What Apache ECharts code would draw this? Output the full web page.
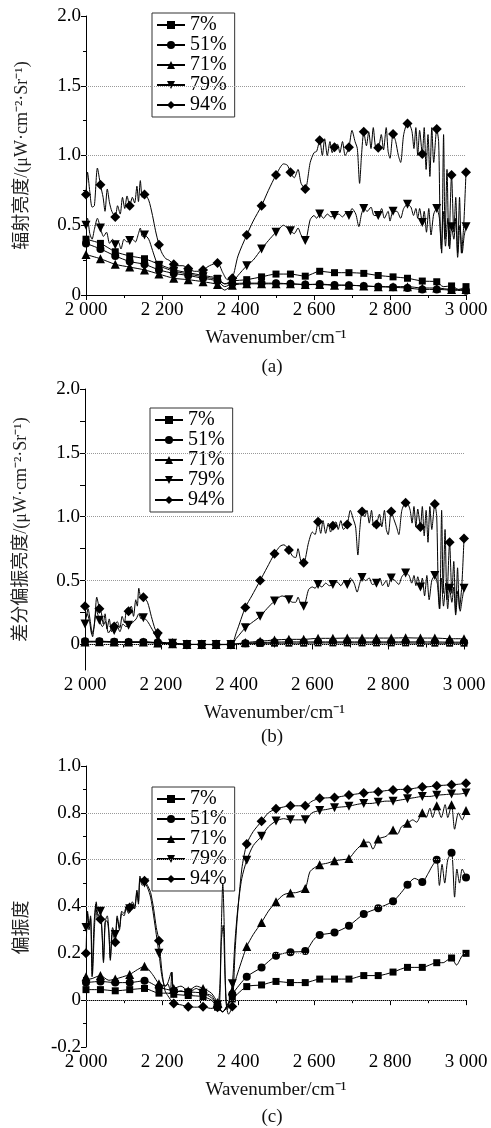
<!DOCTYPE html>
<html lang="zh">
<head>
<meta charset="UTF-8">
<title>辐射亮度 / 差分偏振亮度 / 偏振度</title>
<script src="https://cdn.jsdelivr.net/npm/echarts@6/dist/echarts.min.js"></script>
<style>
    html, body { margin: 0; padding: 0; background: #fff; }
    #chart { width: 491px; height: 1128px; }
</style>
</head>
<body>
<div id="chart"></div>
<script>
    // legend names and where the markers sit (every ~38.5 cm-1)
    const names = ['7%', '51%', '71%', '79%', '94%'];
    const marks = [2000, 2038, 2077, 2115, 2154, 2192, 2231, 2269, 2308, 2346, 2385, 2423, 2462, 2500,
        2538, 2577, 2615, 2654, 2692, 2731, 2769, 2808, 2846, 2885, 2923, 2962, 3000];

    const xTicks = [2000, 2200, 2400, 2600, 2800, 3000];
    const yTicksA = [0, 0.5, 1.0, 1.5, 2.0];
    const yTicksB = [0, 0.5, 1.0, 1.5, 2.0];
    const yTicksC = [-0.2, 0, 0.2, 0.4, 0.6, 0.8, 1.0];
    const gridA = [0.5, 1.0, 1.5];
    const gridB = [0, 0.5, 1.0, 1.5];
    const gridC = [0, 0.2, 0.4, 0.6, 0.8];

    // (a) radiance
    const a7 = [[2000,0.40],[2038,0.37],[2077,0.31],[2115,0.28],[2154,0.26],[2192,0.22],[2231,0.18],[2269,0.16],[2308,0.14],[2346,0.12],[2365,0.08],[2385,0.10],[2423,0.11],[2462,0.13],[2500,0.15],[2538,0.15],[2577,0.135],[2615,0.17],[2654,0.16],[2692,0.16],[2731,0.155],[2769,0.14],[2808,0.13],[2846,0.12],[2885,0.10],[2923,0.095],[2940,0.06],[2962,0.065],[2980,0.04],[3000,0.06]];
    const a51 = [[2000,0.37],[2038,0.33],[2077,0.28],[2115,0.24],[2154,0.22],[2192,0.18],[2231,0.155],[2269,0.14],[2308,0.12],[2346,0.10],[2365,0.06],[2385,0.08],[2423,0.085],[2462,0.085],[2500,0.085],[2538,0.08],[2577,0.075],[2615,0.078],[2654,0.072],[2692,0.07],[2731,0.065],[2769,0.06],[2808,0.055],[2846,0.05],[2885,0.04],[2923,0.04],[2962,0.035],[3000,0.03]];
    const a71 = [[2000,0.29],[2038,0.26],[2077,0.22],[2115,0.20],[2154,0.18],[2192,0.15],[2231,0.12],[2269,0.11],[2308,0.095],[2346,0.075],[2365,0.035],[2385,0.07],[2423,0.08],[2462,0.08],[2500,0.08],[2538,0.08],[2577,0.075],[2615,0.075],[2654,0.07],[2692,0.07],[2731,0.065],[2769,0.06],[2808,0.06],[2846,0.06],[2885,0.05],[2923,0.05],[2962,0.04],[3000,0.04]];
    const a79 = [[2000,0.50],[2004,0.55],[2010,0.44],[2016,0.40],[2022,0.47],[2030,0.55],[2038,0.48],[2046,0.42],[2054,0.45],[2062,0.37],[2070,0.40],[2077,0.36],[2085,0.38],[2092,0.33],[2100,0.40],[2108,0.38],[2115,0.39],[2122,0.40],[2130,0.38],[2138,0.44],[2143,0.48],[2148,0.42],[2154,0.43],[2165,0.40],[2175,0.32],[2185,0.24],[2192,0.21],[2210,0.19],[2231,0.17],[2250,0.16],[2269,0.15],[2290,0.14],[2308,0.13],[2330,0.12],[2346,0.11],[2365,0.08],[2385,0.09],[2400,0.14],[2423,0.21],[2440,0.25],[2462,0.33],[2480,0.39],[2500,0.45],[2520,0.50],[2530,0.48],[2538,0.46],[2548,0.44],[2558,0.48],[2566,0.43],[2577,0.39],[2590,0.54],[2600,0.57],[2607,0.55],[2615,0.58],[2625,0.55],[2635,0.58],[2645,0.56],[2654,0.57],[2665,0.58],[2675,0.56],[2685,0.59],[2692,0.57],[2700,0.62],[2710,0.58],[2718,0.49],[2725,0.58],[2731,0.62],[2740,0.60],[2750,0.63],[2758,0.57],[2769,0.57],[2778,0.62],[2785,0.55],[2795,0.60],[2800,0.53],[2808,0.60],[2818,0.60],[2828,0.55],[2836,0.62],[2846,0.65],[2855,0.63],[2862,0.57],[2868,0.62],[2873,0.55],[2878,0.62],[2885,0.52],[2890,0.60],[2896,0.45],[2902,0.62],[2908,0.43],[2915,0.58],[2923,0.62],[2930,0.55],[2935,0.33],[2940,0.60],[2946,0.35],[2952,0.55],[2957,0.33],[2962,0.49],[2968,0.40],[2973,0.55],[2978,0.27],[2984,0.50],[2990,0.30],[2995,0.42],[3000,0.49]];
    const a94 = [[2000,0.72],[2004,0.88],[2010,0.74],[2016,0.63],[2022,0.64],[2030,0.91],[2038,0.79],[2045,0.70],[2050,0.60],[2056,0.76],[2062,0.66],[2068,0.60],[2077,0.56],[2083,0.64],[2090,0.58],[2096,0.70],[2102,0.62],[2108,0.71],[2115,0.64],[2122,0.70],[2128,0.66],[2134,0.78],[2138,0.67],[2143,0.82],[2148,0.70],[2154,0.72],[2165,0.68],[2175,0.57],[2183,0.46],[2192,0.36],[2200,0.30],[2210,0.26],[2218,0.25],[2231,0.22],[2245,0.21],[2255,0.21],[2269,0.19],[2285,0.17],[2295,0.17],[2308,0.18],[2325,0.21],[2346,0.23],[2360,0.16],[2372,0.11],[2385,0.12],[2400,0.28],[2423,0.43],[2440,0.53],[2462,0.64],[2480,0.75],[2500,0.86],[2520,0.94],[2530,0.93],[2538,0.88],[2548,0.84],[2558,0.90],[2566,0.80],[2577,0.76],[2590,0.95],[2600,1.02],[2607,1.03],[2615,1.11],[2622,1.00],[2628,1.12],[2635,1.00],[2642,1.10],[2648,1.02],[2654,1.06],[2662,1.08],[2668,1.02],[2675,1.10],[2682,1.00],[2692,1.06],[2700,1.18],[2708,1.10],[2714,1.05],[2720,0.80],[2725,1.00],[2731,1.17],[2738,1.07],[2744,1.17],[2750,1.05],[2756,1.20],[2762,1.06],[2769,1.055],[2777,1.15],[2783,1.04],[2790,1.20],[2795,1.03],[2800,0.98],[2808,1.155],[2815,1.10],[2822,1.00],[2828,0.95],[2836,1.15],[2846,1.23],[2852,1.22],[2858,1.17],[2863,1.05],[2868,1.20],[2873,1.00],[2878,1.18],[2885,1.01],[2890,1.20],[2895,0.90],[2900,1.15],[2905,0.85],[2910,1.20],[2915,0.95],[2923,1.19],[2928,1.10],[2932,0.50],[2936,0.30],[2941,1.15],[2945,0.40],[2950,0.90],[2955,0.35],[2962,0.86],[2968,0.45],[2973,0.70],[2978,0.30],[2983,0.70],[2988,0.30],[2994,0.50],[3000,0.88]];

    // (b) differential polarized radiance
    const b7 = [[2000,0.02],[2038,0.02],[2077,0.018],[2115,0.016],[2154,0.015],[2192,0.01],[2231,0.005],[2269,0.0],[2308,0.0],[2346,-0.002],[2385,0.0],[2423,0.005],[2462,0.008],[2500,0.01],[2538,0.01],[2577,0.01],[2615,0.012],[2654,0.012],[2692,0.012],[2731,0.012],[2769,0.012],[2808,0.012],[2846,0.012],[2885,0.01],[2923,0.01],[2962,0.01],[3000,0.01]];
    const b51 = [[2000,0.025],[2038,0.025],[2077,0.022],[2115,0.02],[2154,0.02],[2192,0.015],[2231,0.005],[2269,0.0],[2308,0.0],[2346,0.0],[2385,0.0],[2423,0.01],[2462,0.015],[2500,0.018],[2538,0.02],[2577,0.02],[2615,0.02],[2654,0.02],[2692,0.02],[2731,0.02],[2769,0.02],[2808,0.02],[2846,0.02],[2885,0.02],[2923,0.02],[2962,0.018],[3000,0.018]];
    const b71 = [[2000,0.02],[2038,0.022],[2077,0.02],[2115,0.02],[2154,0.02],[2192,0.012],[2231,0.005],[2269,0.0],[2308,0.0],[2346,0.0],[2385,0.0],[2423,0.015],[2462,0.025],[2500,0.035],[2538,0.04],[2577,0.04],[2615,0.048],[2654,0.048],[2692,0.05],[2731,0.05],[2769,0.05],[2808,0.05],[2846,0.052],[2885,0.05],[2923,0.05],[2962,0.045],[3000,0.045]];
    const b79 = [[2000,0.16],[2006,0.24],[2012,0.18],[2018,0.08],[2024,0.14],[2030,0.27],[2038,0.19],[2046,0.14],[2054,0.18],[2062,0.09],[2070,0.12],[2077,0.11],[2085,0.14],[2092,0.10],[2100,0.16],[2108,0.14],[2115,0.15],[2125,0.17],[2135,0.20],[2142,0.24],[2148,0.20],[2154,0.21],[2165,0.18],[2175,0.13],[2185,0.08],[2192,0.06],[2200,0.02],[2231,0.01],[2269,0.0],[2308,0.0],[2346,0.0],[2385,0.0],[2400,0.05],[2423,0.13],[2440,0.17],[2462,0.22],[2480,0.28],[2500,0.34],[2520,0.38],[2530,0.37],[2538,0.35],[2548,0.33],[2556,0.33],[2562,0.37],[2570,0.31],[2577,0.30],[2590,0.43],[2600,0.45],[2607,0.44],[2615,0.47],[2625,0.45],[2635,0.48],[2645,0.46],[2654,0.47],[2665,0.49],[2675,0.46],[2685,0.50],[2692,0.47],[2700,0.52],[2710,0.48],[2718,0.41],[2725,0.48],[2731,0.525],[2740,0.50],[2750,0.52],[2758,0.47],[2769,0.48],[2778,0.52],[2785,0.46],[2795,0.50],[2800,0.45],[2808,0.52],[2818,0.50],[2828,0.47],[2836,0.53],[2846,0.56],[2855,0.54],[2862,0.48],[2868,0.54],[2873,0.46],[2878,0.53],[2885,0.45],[2890,0.52],[2896,0.38],[2902,0.54],[2908,0.35],[2915,0.50],[2923,0.54],[2930,0.47],[2935,0.28],[2940,0.52],[2946,0.30],[2952,0.48],[2957,0.28],[2962,0.44],[2968,0.33],[2973,0.45],[2978,0.23],[2984,0.42],[2990,0.26],[2995,0.35],[3000,0.44]];
    const b94 = [[2000,0.30],[2004,0.22],[2008,0.28],[2014,0.18],[2020,0.06],[2026,0.20],[2031,0.37],[2038,0.28],[2043,0.25],[2048,0.16],[2053,0.24],[2058,0.12],[2064,0.20],[2070,0.10],[2077,0.14],[2085,0.18],[2092,0.13],[2098,0.22],[2104,0.17],[2110,0.28],[2115,0.26],[2122,0.30],[2128,0.22],[2134,0.35],[2138,0.30],[2142,0.44],[2148,0.36],[2154,0.37],[2165,0.33],[2175,0.22],[2185,0.12],[2192,0.09],[2200,0.02],[2231,0.01],[2269,0.0],[2308,0.0],[2346,0.0],[2385,0.0],[2400,0.10],[2423,0.29],[2440,0.38],[2462,0.50],[2480,0.60],[2500,0.71],[2515,0.77],[2525,0.78],[2538,0.74],[2548,0.69],[2556,0.68],[2562,0.75],[2570,0.65],[2577,0.64],[2590,0.80],[2600,0.88],[2607,0.86],[2615,0.96],[2622,0.87],[2628,0.97],[2635,0.87],[2642,0.95],[2648,0.88],[2654,0.93],[2662,0.96],[2668,0.90],[2675,0.97],[2682,0.90],[2692,0.94],[2700,1.05],[2708,0.98],[2714,0.92],[2720,0.70],[2725,0.90],[2731,1.04],[2738,1.00],[2744,1.05],[2750,0.95],[2756,1.05],[2762,0.92],[2769,0.94],[2777,1.02],[2783,0.92],[2790,1.05],[2795,0.90],[2800,0.86],[2808,1.04],[2815,0.98],[2822,0.92],[2828,0.86],[2836,1.05],[2846,1.11],[2852,1.10],[2858,1.05],[2863,0.95],[2868,1.08],[2873,0.92],[2878,1.06],[2885,0.92],[2890,1.08],[2895,0.85],[2900,1.05],[2905,0.80],[2910,1.08],[2915,0.90],[2923,1.10],[2928,1.00],[2932,0.45],[2936,0.28],[2941,1.05],[2945,0.40],[2950,0.90],[2955,0.35],[2962,0.80],[2968,0.40],[2973,0.65],[2978,0.25],[2983,0.60],[2988,0.28],[2994,0.45],[3000,0.83]];

    // (c) degree of polarization
    const c7 = [[2000,0.045],[2038,0.045],[2077,0.04],[2115,0.045],[2154,0.05],[2192,0.03],[2215,0.03],[2231,0.025],[2269,0.02],[2308,0.015],[2330,0.0],[2346,-0.03],[2360,-0.05],[2372,-0.02],[2385,0.005],[2423,0.058],[2462,0.065],[2500,0.08],[2538,0.075],[2577,0.075],[2615,0.09],[2654,0.09],[2692,0.09],[2731,0.105],[2769,0.105],[2808,0.12],[2846,0.14],[2885,0.14],[2923,0.16],[2940,0.16],[2950,0.17],[2962,0.18],[2975,0.15],[2990,0.19],[3000,0.20]];
    const c51 = [[2000,0.075],[2038,0.08],[2077,0.075],[2115,0.075],[2154,0.083],[2192,0.055],[2231,0.04],[2269,0.035],[2308,0.03],[2330,0.01],[2346,-0.02],[2360,-0.05],[2372,-0.02],[2385,0.025],[2423,0.10],[2462,0.14],[2500,0.19],[2538,0.205],[2577,0.21],[2600,0.26],[2615,0.278],[2654,0.289],[2692,0.318],[2731,0.368],[2769,0.393],[2808,0.422],[2830,0.46],[2846,0.493],[2865,0.52],[2885,0.505],[2900,0.54],[2910,0.57],[2923,0.60],[2930,0.49],[2937,0.58],[2944,0.50],[2952,0.60],[2962,0.63],[2970,0.44],[2976,0.56],[2983,0.50],[2990,0.56],[3000,0.524]];
    const c71 = [[2000,0.10],[2010,0.09],[2038,0.105],[2060,0.085],[2077,0.09],[2115,0.11],[2135,0.13],[2154,0.145],[2175,0.11],[2192,0.07],[2210,0.06],[2225,0.12],[2231,0.05],[2250,0.06],[2269,0.04],[2290,0.06],[2308,0.05],[2330,0.03],[2346,-0.01],[2358,-0.05],[2372,-0.03],[2385,0.04],[2400,0.12],[2423,0.229],[2440,0.28],[2462,0.332],[2480,0.38],[2500,0.42],[2520,0.45],[2538,0.458],[2555,0.46],[2577,0.477],[2590,0.55],[2615,0.578],[2635,0.585],[2654,0.595],[2675,0.60],[2692,0.605],[2710,0.64],[2731,0.672],[2745,0.675],[2755,0.645],[2769,0.688],[2790,0.70],[2808,0.727],[2820,0.71],[2830,0.74],[2846,0.755],[2860,0.77],[2870,0.76],[2885,0.80],[2895,0.78],[2905,0.82],[2912,0.78],[2923,0.83],[2935,0.78],[2945,0.835],[2952,0.78],[2962,0.835],[2970,0.73],[2980,0.80],[2990,0.77],[3000,0.81]];
    const c79 = [[2000,0.31],[2004,0.38],[2008,0.32],[2012,0.36],[2017,0.11],[2022,0.30],[2027,0.42],[2032,0.36],[2038,0.38],[2042,0.30],[2046,0.17],[2051,0.34],[2056,0.36],[2060,0.30],[2064,0.18],[2070,0.31],[2077,0.28],[2082,0.36],[2088,0.31],[2094,0.38],[2100,0.37],[2106,0.40],[2112,0.38],[2115,0.39],[2122,0.42],[2128,0.40],[2134,0.47],[2138,0.42],[2142,0.52],[2148,0.49],[2154,0.50],[2162,0.48],[2170,0.44],[2178,0.36],[2185,0.28],[2192,0.20],[2200,0.10],[2208,0.06],[2215,0.07],[2222,0.04],[2226,0.12],[2231,0.03],[2250,0.04],[2269,0.03],[2290,0.05],[2308,0.03],[2330,0.02],[2346,-0.02],[2352,0.05],[2356,0.25],[2361,0.32],[2366,0.10],[2372,-0.04],[2385,0.07],[2392,0.25],[2400,0.40],[2410,0.52],[2423,0.597],[2440,0.66],[2462,0.70],[2480,0.74],[2500,0.765],[2520,0.775],[2538,0.77],[2555,0.77],[2577,0.77],[2595,0.80],[2615,0.81],[2635,0.815],[2654,0.822],[2672,0.825],[2692,0.828],[2710,0.835],[2731,0.84],[2750,0.84],[2769,0.845],[2790,0.85],[2808,0.85],[2828,0.855],[2846,0.86],[2865,0.865],[2885,0.87],[2905,0.87],[2923,0.875],[2945,0.878],[2962,0.88],[2980,0.88],[3000,0.885]];
    const c94 = [[2000,0.20],[2004,0.37],[2008,0.30],[2012,0.35],[2016,0.10],[2021,0.32],[2026,0.41],[2031,0.34],[2038,0.346],[2042,0.29],[2046,0.16],[2050,0.33],[2055,0.34],[2060,0.29],[2064,0.17],[2070,0.29],[2077,0.247],[2082,0.35],[2088,0.30],[2094,0.37],[2100,0.36],[2106,0.39],[2112,0.37],[2115,0.396],[2122,0.41],[2128,0.39],[2134,0.46],[2138,0.41],[2142,0.53],[2148,0.50],[2154,0.51],[2162,0.49],[2170,0.46],[2178,0.39],[2185,0.31],[2192,0.254],[2200,0.12],[2208,0.04],[2215,0.02],[2231,-0.014],[2250,-0.02],[2269,-0.028],[2290,-0.03],[2308,-0.028],[2328,-0.035],[2346,-0.03],[2352,0.0],[2356,0.30],[2360,0.50],[2364,0.30],[2368,0.0],[2375,-0.06],[2385,-0.027],[2392,0.20],[2398,0.35],[2410,0.56],[2423,0.667],[2440,0.72],[2462,0.764],[2480,0.80],[2500,0.817],[2520,0.825],[2538,0.83],[2555,0.83],[2577,0.83],[2595,0.85],[2615,0.862],[2635,0.864],[2654,0.866],[2672,0.87],[2692,0.876],[2710,0.88],[2731,0.885],[2750,0.888],[2769,0.89],[2790,0.895],[2808,0.898],[2828,0.90],[2846,0.90],[2865,0.905],[2885,0.91],[2905,0.912],[2923,0.916],[2945,0.918],[2962,0.92],[2980,0.922],[3000,0.926]];

    const panels = [[a7, a51, a71, a79, a94], [b7, b51, b71, b79, b94], [c7, c51, c71, c79, c94]];
    const gridLines = [gridA, gridB, gridC];

    const FONT = "'Liberation Serif', 'Times New Roman', 'Noto Sans CJK SC', serif";
    const symbols = ['rect', 'circle', 'triangle', 'path://M0,0L10,0L5,9Z', 'diamond'];
    const symbolSizes = [7, 8, 9, 9, 10];

    const fmtX = v => String(v).replace(/(\d)(\d{3})$/, '$1 $2');
    const fmtY = v => (v === 0 ? '0' : v.toFixed(1));

    const grids = [
        { left: 86, top: 16, width: 380, height: 279 },
        { left: 85, top: 389, width: 379, height: 281 },
        { left: 86, top: 766, width: 380, height: 281 }
    ].map(g => Object.assign({ outerBoundsMode: 'none', containLabel: false }, g));

    const axisBase = {
        axisLine: { lineStyle: { color: '#000', width: 1 } },
        axisTick: { lineStyle: { color: '#000' }, length: 5 },
        minorTick: { show: true, splitNumber: 2, length: 3, lineStyle: { color: '#000' } },
        splitLine: { show: false },
        axisLabel: { color: '#000', fontFamily: FONT, fontSize: 19 }
    };

    const xAxes = [0, 1, 2].map(i => echarts.util.merge({
        type: 'value', gridIndex: i, min: 2000, max: 3000, interval: 200,
        name: 'Wavenumber/cm⁻¹', nameLocation: 'middle', nameGap: 34,
        nameTextStyle: { color: '#111', fontFamily: FONT, fontSize: 19 },
        axisLabel: { formatter: fmtX, margin: 6 }
    }, axisBase, false));

    const yTitles = ['辐射亮度/(μW·cm⁻²·Sr⁻¹)', '差分偏振亮度/(μW·cm⁻²·Sr⁻¹)', '偏振度'];
    const yAxes = [
        { min: 0, max: 2, interval: 0.5 },
        {
            min: -0.2, max: 2,
            axisLabel: { customValues: yTicksB },
            axisTick: { customValues: [0, 0.25, 0.5, 0.75, 1.0, 1.25, 1.5, 1.75, 2.0] },
            minorTick: { show: false }
        },
        { min: -0.2, max: 1.0, interval: 0.2, nameTextStyle: { padding: [0, 42, 0, 0] } }
    ].map((cfg, i) => echarts.util.merge(echarts.util.merge({
        type: 'value', gridIndex: i,
        name: yTitles[i], nameLocation: 'middle', nameRotate: 90, nameGap: 55,
        nameTextStyle: { color: '#222', fontFamily: FONT, fontSize: 18 },
        axisLabel: { formatter: fmtY, margin: 5 }
    }, cfg, true), axisBase, false));

    const series = [];
    panels.forEach((set, p) => {
        set.forEach((data, k) => {
            const s = {
                name: names[k], type: 'line', xAxisIndex: p, yAxisIndex: p,
                data: data, smooth: 0.25,
                symbol: symbols[k],
                symbolSize: v => (marks.includes(v[0]) ? symbolSizes[k] : 0),
                showSymbol: true,
                lineStyle: { color: '#000', width: 1 },
                itemStyle: { color: '#000' },
                emphasis: { disabled: true },
                z: 3 + k
            };
            if (k === 0) {
                s.markLine = {
                    silent: true, symbol: 'none', animation: false,
                    label: { show: false },
                    lineStyle: { color: '#999', type: 'dotted', width: 1 },
                    emphasis: { disabled: true },
                    data: gridLines[p].map(v => ({ yAxis: v }))
                };
            }
            series.push(s);
        });
    });

    const legendPos = [[152, 13], [150, 408], [152, 787]];
    const legends = legendPos.map(pos => ({
        orient: 'vertical', left: pos[0], top: pos[1],
        data: names, selectedMode: false,
        itemWidth: 28, itemHeight: 10, itemGap: 0,
        padding: [2, 8, 2, 4],
        borderColor: '#333', borderWidth: 1,
        textStyle: { color: '#000', fontFamily: FONT, fontSize: 20, lineHeight: 17 }
    }));

    const captions = [['(a)', 272, 367], ['(b)', 272, 737], ['(c)', 272, 1117]];

    const chart = echarts.init(document.getElementById('chart'), null, { renderer: 'canvas' });
    chart.setOption({
        animation: false,
        backgroundColor: '#fff',
        textStyle: { fontFamily: FONT },
        grid: grids,
        xAxis: xAxes,
        yAxis: yAxes,
        legend: legends,
        series: series,
        graphic: captions.map(c => ({
            type: 'text', x: c[1], y: c[2], silent: true,
            style: { text: c[0], fill: '#111', font: '19px ' + FONT, align: 'center', verticalAlign: 'middle' }
        }))
    });
</script>
</body>
</html>
